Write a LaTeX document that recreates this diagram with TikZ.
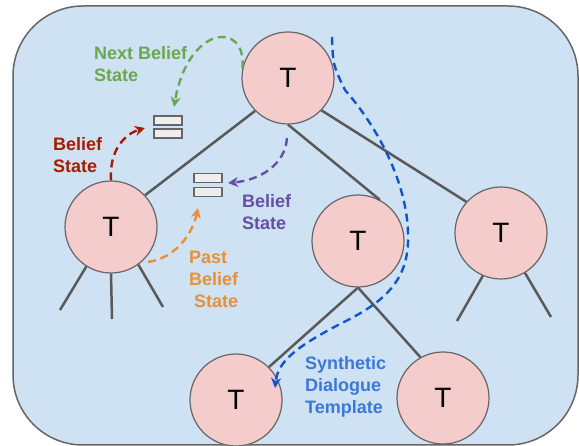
\documentclass[tikz,border=0pt]{standalone}
\usepackage{fontspec}
\setmainfont{Liberation Sans}
\usetikzlibrary{arrows.meta}
\definecolor{bgblue}{HTML}{CFE2F3}
\definecolor{nodepink}{HTML}{F4CCCC}
\definecolor{bordergray}{HTML}{666666}
\definecolor{edgegray}{HTML}{595959}
\definecolor{iconfill}{HTML}{EEEEEE}
\definecolor{cgreen}{HTML}{6AA84F}
\definecolor{cred}{HTML}{A61C00}
\definecolor{cpurple}{HTML}{674EA7}
\definecolor{corange}{HTML}{E69138}
\definecolor{cblue}{HTML}{1155CC}
\definecolor{cbluetext}{HTML}{3C78D8}
\begin{document}
\begin{tikzpicture}[x=1pt,y=-1pt,
  tnode/.style={circle,draw=bordergray,fill=nodepink,line width=1.2pt,minimum size=92pt,inner sep=0pt,font=\fontsize{28}{30}\selectfont},
  edge/.style={draw=edgegray,line width=2.5pt},
  iconbox/.style={rectangle,draw=bordergray,fill=iconfill,line width=1.2pt,minimum width=28pt,minimum height=9pt,inner sep=0pt},
  flow/.style={line width=2.4pt,dash pattern=on 8pt off 5pt,-{Stealth[length=10pt,width=10pt,inset=3pt]}},
  lbl/.style={anchor=base west,align=left,inner sep=0pt,font=\bfseries\fontsize{18}{22}\selectfont}
]
\useasboundingbox (0,0) rectangle (579,446);
\draw[fill=bgblue,draw=bordergray,line width=1.5pt,rounded corners=70pt] (13,6) rectangle (578,445);

% tree nodes
\node[tnode] (root) at (288,78) {T};
\node[tnode] (left) at (111,227) {T};
\node[tnode] (mid) at (358,241) {T};
\node[tnode] (right) at (501,233) {T};
\node[tnode] (bl) at (236,400) {T};
\node[tnode] (br) at (443,398) {T};

% tree edges
\draw[edge] (root.225) -- (left.43);
\draw[edge] (root.270) -- (mid.62);
\draw[edge] (root.-44) -- (right.138);
\draw[edge] (mid.270) -- (bl.45);
\draw[edge] (mid.270) -- (br.119);

% dangling legs
\coordinate (l1) at (60,310);
\coordinate (l2) at (112,319);
\coordinate (l3) at (163,307);
\coordinate (r1) at (457,321);
\coordinate (r2) at (551,317);
\draw[edge] (left.-122) -- (l1);
\draw[edge] (left.-90) -- (l2);
\draw[edge] (left.-54) -- (l3);
\draw[edge] (right.-113) -- (r1);
\draw[edge] (right.-59) -- (r2);

% belief state icons
\node[iconbox] (bsa1) at (168,120.5) {};
\node[iconbox] (bsa2) at (168,133.5) {};
\node[iconbox] (bsb1) at (208,178) {};
\node[iconbox] (bsb2) at (208,192) {};

% arrow end points
\coordinate (gend) at (174,107);
\coordinate (rend) at (145,128);
\coordinate (pstart) at (287,138);
\coordinate (pend) at (228,183);
\coordinate (ostart) at (148,262);
\coordinate (oend) at (198,208);
\coordinate (bstart) at (332,37);
\coordinate (bend) at (275,388);

% flows
\draw[flow,cgreen] (root.168) .. controls (247,20) and (188,25) .. (gend);
\draw[flow,cred] (left.90) .. controls (109,150) and (125,134) .. (rend);
\draw[flow,cpurple] (pstart) .. controls (285,165) and (260,180) .. (pend);
\draw[flow,corange] (ostart) .. controls (175,258) and (192,235) .. (oend);
\draw[flow,cblue] (bstart) .. controls (333,65) .. (345,90)
  .. controls (380,130) and (407,185) .. (408,233)
  .. controls (410,280) and (385,302) .. (340,324)
  .. controls (300,345) and (278,360) .. (bend);

% labels (anchored at the baseline of the last line)
\node[lbl,text=cgreen] (tg) at (94,82) {Next Belief\\State};
\node[lbl,text=cred] (tr) at (53,173) {Belief\\State};
\node[lbl,text=cpurple] (tp) at (242,230) {Belief\\State};
\node[lbl,text=corange] (to) at (189,308) {Past\\Belief\\\hspace{5pt}State};
\node[lbl,text=cbluetext] (tb) at (305,414) {Synthetic\\Dialogue\\Template};
\end{tikzpicture}
\end{document}
